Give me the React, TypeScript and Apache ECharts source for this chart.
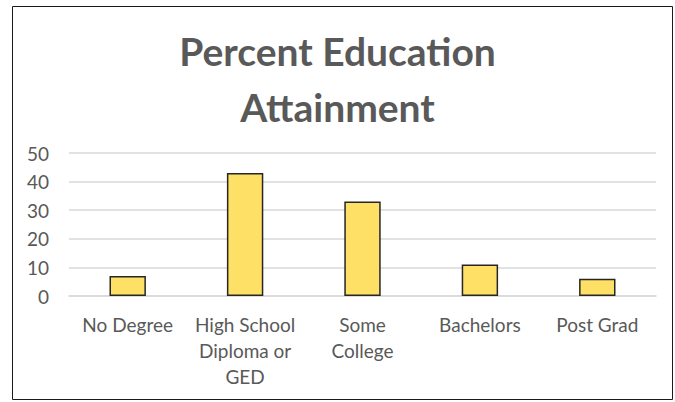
import React, { useEffect, useRef } from "react";
import * as echarts from "echarts";

const categories = ["No Degree", "High School Diploma or GED", "Some College", "Bachelors", "Post Grad"];
const tickLabels = ["No Degree", "High School\nDiploma or\nGED", "Some\nCollege", "Bachelors", "Post Grad"];
const values = [7, 43, 33, 11, 6];
const yTicks = [0, 10, 20, 30, 40, 50];

export default function App() {
  const ref = useRef<HTMLDivElement>(null);
  useEffect(() => {
    if (!ref.current) return;
    const chart = echarts.init(ref.current, undefined, { renderer: "svg" });
    const font = "Lato, 'Noto Sans', sans-serif";
    chart.setOption({
      animation: false,
      backgroundColor: "#ffffff",
      textStyle: { fontFamily: font },
      title: {
        text: "Percent Education\nAttainment",
        left: "center",
        top: 18,
        textStyle: { fontFamily: font, fontSize: 39, fontWeight: "bold", color: "#595959", lineHeight: 56 },
      },
      graphic: [
        {
          type: "rect",
          shape: { x: 12.5, y: 6.5, width: 660, height: 393 },
          style: { fill: "none", stroke: "#1a1a1a", lineWidth: 1 },
          silent: true,
        },
      ],
      grid: { left: 69, right: 19, top: 153, bottom: 106, containLabel: false },
      xAxis: {
        type: "category",
        data: categories,
        axisLine: { show: true, lineStyle: { color: "#d9d9d9", width: 1.5 } },
        axisTick: { show: false },
        axisLabel: {
          color: "#595959",
          fontSize: 19,
          lineHeight: 26,
          margin: 15,
          interval: 0,
          formatter: (_v: string, i: number) => tickLabels[i],
        },
      },
      yAxis: {
        type: "value",
        min: yTicks[0],
        max: yTicks[yTicks.length - 1],
        interval: 10,
        axisLine: { show: false },
        axisTick: { show: false },
        splitLine: { lineStyle: { color: "#d9d9d9", width: 1.5 } },
        axisLabel: { color: "#595959", fontSize: 19, margin: 20 },
      },
      series: [
        {
          type: "bar",
          data: values,
          barWidth: "31%",
          itemStyle: { color: "#FFE066", borderColor: "#262626", borderWidth: 1.5 },
        },
      ],
    });
    return () => chart.dispose();
  }, []);
  return <div ref={ref} style={{ position: "absolute", left: 0, top: 0, width: 675, height: 402 }} />;
}
